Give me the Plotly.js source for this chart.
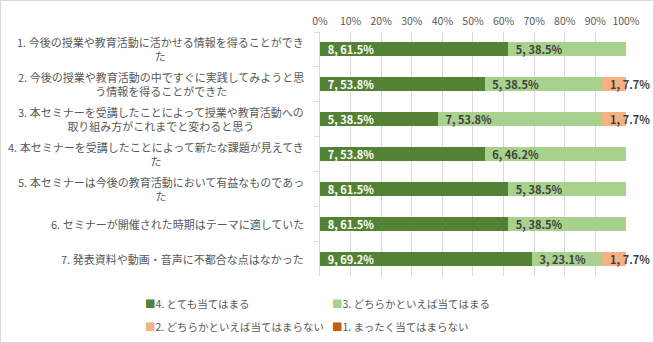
<!DOCTYPE html>
<html>
<head>
<meta charset="utf-8">
<script src="https://cdn.plot.ly/plotly-3.0.1.min.js"></script>
<style>
  body { margin: 0; background: #fff; }
  #chart { width: 652px; height: 341px; border: 1px solid #d9d9d9; }
</style>
</head>
<body>
<div id="chart"></div>
<script>
var questions = [
  '1. 今後の授業や教育活動に活かせる情報を得ることができ<br>た',
  '2. 今後の授業や教育活動の中ですぐに実践してみようと思<br>う情報を得ることができた',
  '3. 本セミナーを受講したことによって授業や教育活動への<br>取り組み方がこれまでと変わると思う',
  '4. 本セミナーを受講したことによって新たな課題が見えてき<br>た',
  '5. 本セミナーは今後の教育活動において有益なものであっ<br>た',
  '6. セミナーが開催された時期はテーマに適していた',
  '7. 発表資料や動画・音声に不都合な点はなかった'
];

var seriesNames = ['4. とても当てはまる', '3. どちらかといえば当てはまる',
  '2. どちらかといえば当てはまらない', '1. まったく当てはまらない'];
var seriesColors = ['#548235', '#a9d18e', '#f4b183', '#c55a11'];
var labelColors = ['#ffffff', '#404040', '#404040', '#404040'];

// counts and percentages per series, question 1..7
var counts = [
  [8, 7, 5, 7, 8, 8, 9],
  [5, 5, 7, 6, 5, 5, 3],
  [0, 1, 1, 0, 0, 0, 1],
  [0, 0, 0, 0, 0, 0, 0]
];
var pcts = [
  [61.5, 53.8, 38.5, 53.8, 61.5, 61.5, 69.2],
  [38.5, 38.5, 53.8, 46.2, 38.5, 38.5, 23.1],
  [0, 7.7, 7.7, 0, 0, 0, 7.7],
  [0, 0, 0, 0, 0, 0, 0]
];

var tickVals = [0, 10, 20, 30, 40, 50, 60, 70, 80, 90, 100];
var tickText = tickVals.map(function (v) { return v + '%'; });

var font = 'Noto Sans CJK JP, sans-serif';

var data = [];
for (var s = 0; s < seriesNames.length; s++) {
  var txt = counts[s].map(function (c, i) {
    return c ? '\u00a0\u2009' + c + ', ' + pcts[s][i].toFixed(1) + '%' : '';
  });
  data.push({
    type: 'bar',
    orientation: 'h',
    name: seriesNames[s],
    y: questions,
    x: pcts[s],
    text: txt,
    textposition: 'inside',
    insidetextanchor: 'start',
    textangle: 0,
    constraintext: 'none',
    cliponaxis: false,
    textfont: { family: font, size: 11, color: labelColors[s], weight: 'bold' },
    marker: { color: seriesColors[s] },
    showlegend: false,
    hoverinfo: 'name+x'
  });
}

var annotations = questions.map(function (q) {
  return {
    xref: 'paper', yref: 'y', x: 0, y: q, xanchor: 'right', xshift: -14,
    text: q, showarrow: false, align: 'center',
    font: { family: font, size: 11, color: '#595959' }
  };
});

// legend, two rows of two entries (as in the original)
var legendX = [-0.578, 0.033];
var legendY = [-0.111, -0.205];
seriesNames.forEach(function (name, s) {
  annotations.push({
    xref: 'paper', yref: 'paper',
    x: legendX[s % 2], y: legendY[Math.floor(s / 2)],
    xanchor: 'left', yanchor: 'middle', showarrow: false,
    text: '<span style="color:' + seriesColors[s] + '">■</span>' + name,
    font: { family: font, size: 10.5, color: '#595959' }
  });
});

var layout = {
  width: 652, height: 341,
  margin: { l: 319, r: 27, t: 31, b: 66 },
  paper_bgcolor: '#fff', plot_bgcolor: '#fff',
  barmode: 'stack', bargap: 0.6,
  showlegend: false,
  font: { family: font, color: '#595959' },
  xaxis: {
    side: 'top', range: [0, 100.01], tickmode: 'array',
    tickvals: tickVals, ticktext: tickText, ticklabelstandoff: 4,
    gridcolor: '#d9d9d9', zeroline: false, showline: false,
    tickfont: { family: font, size: 10.5, color: '#595959' }
  },
  xaxis2: {
    overlaying: 'x', side: 'bottom', anchor: 'y', range: [0, 100.01],
    tickmode: 'array', tickvals: tickVals,
    ticks: 'outside', ticklen: 5, tickcolor: '#d9d9d9',
    showticklabels: false, showgrid: false, zeroline: false
  },
  yaxis: {
    autorange: 'reversed', showticklabels: false, showgrid: false,
    ticks: 'outside', tickson: 'boundaries', ticklen: 5, tickcolor: '#d9d9d9',
    showline: true, linecolor: '#d9d9d9', zeroline: false
  },
  annotations: annotations
};

Plotly.newPlot('chart', data, layout, { displayModeBar: false });
</script>
</body>
</html>
